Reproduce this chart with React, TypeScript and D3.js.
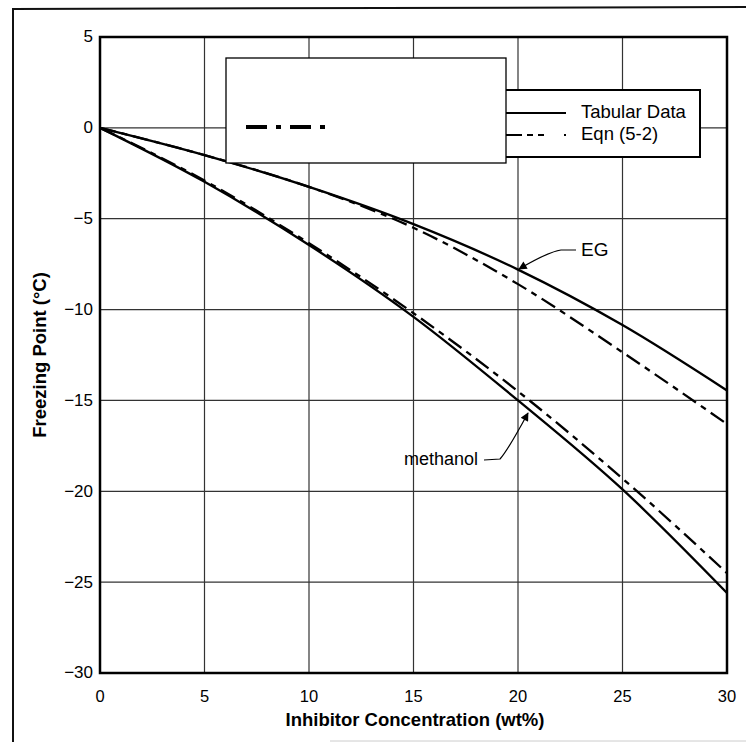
import * as d3 from "d3";
import React, { useEffect, useRef } from "react";

// concentration (wt%)
const conc = [0, 5, 10, 15, 20, 25, 30];
// freezing point (°C)
const methanolTabular = [0, -2.97, -6.45, -10.4, -15.0, -19.9, -25.6];
const methanolEqn = [0, -2.9, -6.35, -10.2, -14.5, -19.3, -24.5];
const egTabular = [0, -1.5, -3.25, -5.3, -7.8, -10.85, -14.45];
const egEqn = [0, -1.5, -3.25, -5.5, -8.6, -12.35, -16.3];

const xTicks = [0, 5, 10, 15, 20, 25, 30];
const yTicks = [5, 0, -5, -10, -15, -20, -25, -30];
const legendLabels = ["Tabular Data", "Eqn (5-2)"];

const W = 746;
const H = 742;
const FONT = "'Liberation Sans', Arial, sans-serif";

export default function App() {
  const ref = useRef<SVGSVGElement>(null);

  useEffect(() => {
    document.body.style.margin = "0";
    const svg = d3.select(ref.current);
    svg.selectAll("*").remove();

    const x = d3.scaleLinear().domain([0, 30]).range([100, 727]);
    const y = d3.scaleLinear().domain([5, -30]).range([37, 673]);

    // outer frame (scan border)
    svg.append("path")
      .attr("d", "M13,742 L13,9 L746,7")
      .attr("fill", "none")
      .attr("stroke", "#111")
      .attr("stroke-width", 2);
    svg.append("line")
      .attr("x1", 330).attr("x2", 746).attr("y1", 741).attr("y2", 741)
      .attr("stroke", "#ccc").attr("stroke-width", 1);

    // grid
    const grid = svg.append("g").attr("stroke", "#333").attr("stroke-width", 1.2);
    grid.selectAll(".gx").data(xTicks.slice(1, -1)).enter().append("line")
      .attr("x1", (d) => x(d)).attr("x2", (d) => x(d))
      .attr("y1", y(5)).attr("y2", y(-30));
    grid.selectAll(".gy").data(yTicks.slice(1, -1)).enter().append("line")
      .attr("x1", x(0)).attr("x2", x(30))
      .attr("y1", (d) => y(d)).attr("y2", (d) => y(d));

    // plot frame
    svg.append("rect")
      .attr("x", x(0)).attr("y", y(5))
      .attr("width", x(30) - x(0)).attr("height", y(-30) - y(5))
      .attr("fill", "none").attr("stroke", "#000").attr("stroke-width", 2.5);

    // tick labels
    svg.append("g").selectAll("text").data(xTicks).enter().append("text")
      .attr("x", (d) => x(d)).attr("y", 702)
      .attr("text-anchor", "middle")
      .style("font-family", FONT).style("font-size", "16.5px")
      .text((d) => d);
    svg.append("g").selectAll("text").data(yTicks).enter().append("text")
      .attr("x", 93).attr("y", (d) => y(d) + 1)
      .attr("text-anchor", "end").attr("dominant-baseline", "middle")
      .style("font-family", FONT).style("font-size", "17px")
      .text((d) => (d < 0 ? "\u2212" + Math.abs(d) : d));

    // axis titles
    svg.append("text")
      .attr("x", 415).attr("y", 726)
      .attr("text-anchor", "middle")
      .style("font-family", FONT).style("font-size", "18.5px").style("font-weight", "bold")
      .text("Inhibitor Concentration (wt%)");
    svg.append("text")
      .attr("transform", `translate(46,${(y(5) + y(-30)) / 2}) rotate(-90)`)
      .attr("text-anchor", "middle")
      .style("font-family", FONT).style("font-size", "18.5px").style("font-weight", "bold")
      .text("Freezing Point (\u00b0C)");

    // curves
    const line = d3.line<number>()
      .x((d, i) => x(conc[i]))
      .y((d) => y(d))
      .curve(d3.curveMonotoneX);
    const series = [
      { v: methanolTabular, dash: null },
      { v: methanolEqn, dash: "16,6,6,6" },
      { v: egTabular, dash: null },
      { v: egEqn, dash: "16,6,6,6" },
    ];
    svg.append("g").selectAll("path").data(series).enter().append("path")
      .attr("d", (s) => line(s.v))
      .attr("fill", "none").attr("stroke", "#000").attr("stroke-width", 2.3)
      .attr("stroke-dasharray", (s) => s.dash);

    // annotations
    const defs = svg.append("defs");
    defs.append("marker")
      .attr("id", "arr").attr("viewBox", "0 0 10 10")
      .attr("refX", 9).attr("refY", 5)
      .attr("markerWidth", 9).attr("markerHeight", 7)
      .attr("orient", "auto")
      .append("path").attr("d", "M0,0 L10,5 L0,10 Z").attr("fill", "#000");

    svg.append("path")
      .attr("d", "M576,250 L561,250 Q548,252 519,269")
      .attr("fill", "none").attr("stroke", "#000").attr("stroke-width", 1.2)
      .attr("marker-end", "url(#arr)");
    svg.append("text")
      .attr("x", 581).attr("y", 251).attr("dominant-baseline", "middle")
      .style("font-family", FONT).style("font-size", "19px")
      .text("EG");

    svg.append("path")
      .attr("d", "M484,460 L500,459 Q508,450 528,413")
      .attr("fill", "none").attr("stroke", "#000").attr("stroke-width", 1.2)
      .attr("marker-end", "url(#arr)");
    svg.append("text")
      .attr("x", 478).attr("y", 460).attr("text-anchor", "end").attr("dominant-baseline", "middle")
      .style("font-family", FONT).style("font-size", "18px")
      .text("methanol");

    // legend
    svg.append("rect")
      .attr("x", 420).attr("y", 90).attr("width", 280).attr("height", 67)
      .attr("fill", "#fff").attr("stroke", "#000").attr("stroke-width", 2);
    const lg = svg.append("g").selectAll("g").data(legendLabels).enter().append("g")
      .attr("transform", (d, i) => `translate(0,${113 + i * 22})`);
    lg.append("line")
      .attr("x1", 480).attr("x2", 566).attr("y1", 0).attr("y2", 0)
      .attr("stroke", "#000").attr("stroke-width", 2)
      .attr("stroke-dasharray", (d, i) => (i === 1 ? "5,6,5,6,20" : null));
    lg.append("text")
      .attr("x", 581).attr("y", 0).attr("dominant-baseline", "middle")
      .style("font-family", FONT).style("font-size", "18.5px")
      .text((d) => d);

    // overlay box
    svg.append("rect")
      .attr("x", 226).attr("y", 58).attr("width", 280).attr("height", 105)
      .attr("fill", "#fff").attr("stroke", "#000").attr("stroke-width", 1.3);
    svg.append("line")
      .attr("x1", 246).attr("x2", 325).attr("y1", 127).attr("y2", 127)
      .attr("stroke", "#000").attr("stroke-width", 4)
      .attr("stroke-dasharray", "21,9,5,9");
  }, []);

  return (
    <svg ref={ref} width={W} height={H} style={{ position: "absolute", left: 0, top: 0, background: "#fff" }} />
  );
}
